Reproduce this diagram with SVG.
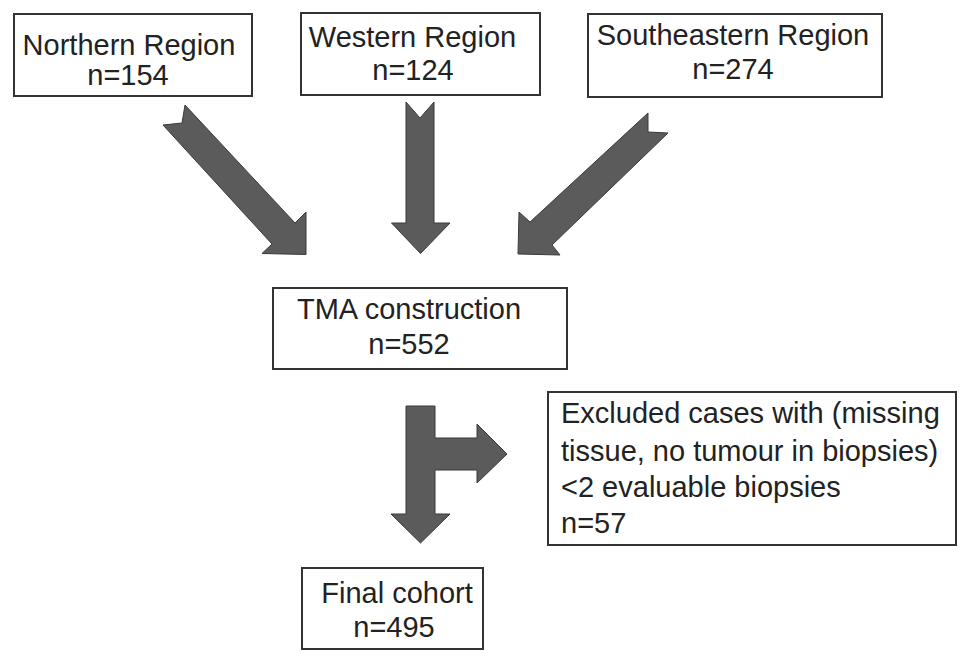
<svg xmlns="http://www.w3.org/2000/svg" width="969" height="665" viewBox="0 0 969 665">
<style>
.box{fill:#fff;stroke:#333;stroke-width:2}
.t{font-family:"Liberation Sans",Arial,sans-serif;font-size:29px;fill:#222}
.c{text-anchor:middle}
.arr{fill:#5b5b5b;stroke:#3a3a3a;stroke-width:1;stroke-linejoin:miter}
</style>
<rect width="969" height="665" fill="#fff"/>
<g id="northern">
<rect class="box" x="14" y="14" width="238" height="82"/>
<text class="t c" x="129" y="55">Northern Region</text>
<text class="t c" x="128" y="85">n=154</text>
</g>
<g id="western">
<rect class="box" x="301" y="13" width="239" height="82"/>
<text class="t c" x="412.5" y="47">Western Region</text>
<text class="t c" x="413" y="80">n=124</text>
</g>
<g id="southeastern">
<rect class="box" x="588" y="14" width="294" height="83"/>
<text class="t c" x="733" y="45">Southeastern Region</text>
<text class="t c" x="733" y="79">n=274</text>
</g>
<g id="tma">
<rect class="box" x="273" y="288" width="294" height="81"/>
<text class="t c" x="409" y="319">TMA construction</text>
<text class="t c" x="409" y="354">n=552</text>
</g>
<g id="excluded">
<rect class="box" x="548" y="392" width="408" height="153"/>
<text class="t" x="561" y="423">Excluded cases with (missing</text>
<text class="t" x="561" y="461">tissue, no tumour in biopsies)</text>
<text class="t" x="561" y="497">&lt;2 evaluable biopsies</text>
<text class="t" x="561" y="533">n=57</text>
</g>
<g id="final">
<rect class="box" x="302" y="568" width="181" height="81"/>
<text class="t c" x="397" y="603">Final cohort</text>
<text class="t c" x="394" y="637">n=495</text>
</g>
<g id="connectors">
<polygon class="arr" points="185,105 295,223 306,212 306,254.5 262,253.5 272,244 163,125 182,123"/>
<polygon class="arr" points="406,102 420,118 434,102 434,223 450,223 420.5,253.5 391.5,223 406,223"/>
<polygon class="arr" points="648,113 648,132 668,133 552,245 560,255 518,254 519,212 530,222"/>
<polygon class="arr" points="406,406 435,406 435,438 477,438 477,424 507,454 477,483 477,470 435,470 435,514 450,514 420.5,543 391,514 406,514"/>
</g>
</svg>
